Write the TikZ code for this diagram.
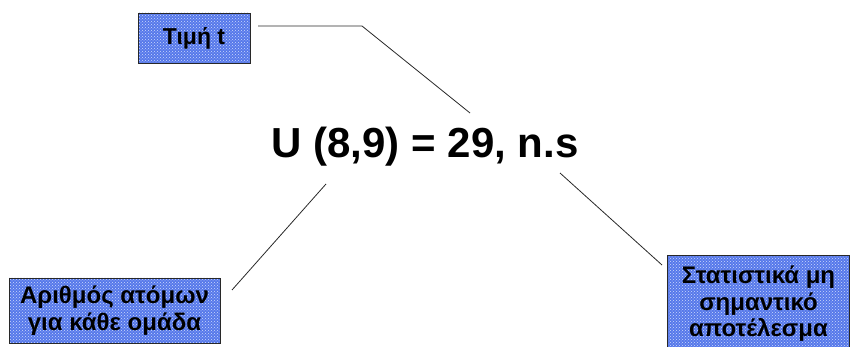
\documentclass[tikz,border=0pt]{standalone}
\usepackage{fontspec}
\setmainfont{Liberation Sans}
\usetikzlibrary{patterns}
\definecolor{boxblue}{RGB}{86,120,234}
\definecolor{dotblue}{RGB}{205,218,252}
\definecolor{darkgrey}{RGB}{40,40,40}

\begin{document}
\begin{tikzpicture}[x=1pt,y=-1pt]
  \tikzset{
    infobox/.style={draw=darkgrey,line width=0.9pt,
      preaction={fill=boxblue},pattern=crosshatch dots,pattern color=dotblue,
      inner sep=0pt,align=center,
      font=\bfseries\fontsize{24}{26.5}\selectfont},
    leader/.style={darkgrey,line width=0.8pt}
  }
  \useasboundingbox (0,0) rectangle (854,347);
  % the result in the middle
  \node[anchor=base,font=\bfseries\fontsize{42}{48}\selectfont] (result)
    at (425,158) {U (8,9) = 29, n.s};
  % the three labelled boxes
  \node[infobox,minimum width=112,minimum height=50,
    font=\bfseries\fontsize{23}{26}\selectfont] (tval) at (194,38) {Τιμή t};
  \node[infobox,minimum width=211,minimum height=65] (groups) at (114.5,310.5)
    {Αριθμός ατόμων\\για κάθε ομάδα};
  \node[infobox,minimum width=182,minimum height=98] (nsig) at (758.5,304)
    {Στατιστικά μη\\σημαντικό\\αποτέλεσμα};
  % leader lines
  \coordinate (tstart) at (258,26);
  \coordinate (tbend) at (362,26);
  \coordinate (tend) at (470,113);
  \coordinate (gstart) at (232,290);
  \coordinate (gend) at (326,184);
  \coordinate (nstart) at (662,265);
  \coordinate (nend) at (560,173);
  \draw[leader] (tstart) -- (tbend) -- (tend);
  \draw[leader] (gstart) -- (gend);
  \draw[leader] (nstart) -- (nend);
\end{tikzpicture}
\end{document}
